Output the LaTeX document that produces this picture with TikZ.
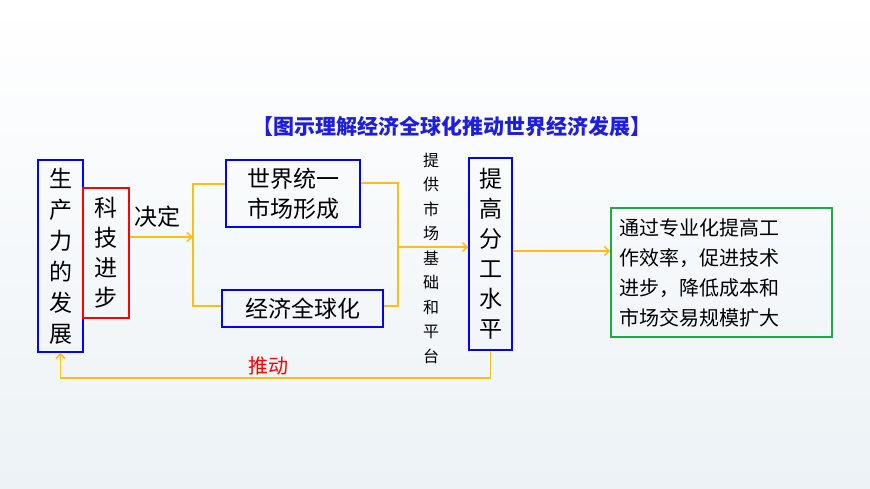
\documentclass[tikz,border=0pt]{standalone}
\usepackage{fontspec}
\setmainfont{Noto Sans CJK SC}
\usetikzlibrary{arrows.meta}
\definecolor{org}{RGB}{255,190,20}
\definecolor{grn}{RGB}{30,170,70}
\definecolor{ttl}{RGB}{30,30,220}
\definecolor{bgb}{RGB}{236,242,246}
\begin{document}
\begin{tikzpicture}[x=1pt,y=-1pt,
  box/.style={draw=#1,line width=1.2pt,inner sep=0pt},
  ol/.style={draw=org,line width=1.5pt},
  oa/.style={ol,-{Straight Barb[length=5pt,width=9pt]}},
  big/.style={font=\fontsize{23}{30}\selectfont},
  vt/.style={align=center,text width=24pt}]
\fill[top color=white,bottom color=bgb] (0,0) rectangle (870,489);
\useasboundingbox (0,0) rectangle (870,489);
\node[font=\bfseries\fontsize{21}{22}\selectfont,text=ttl] (title) at (452,127) {【图示理解经济全球化推动世界经济发展】};
\node[box=blue,minimum width=45pt,minimum height=192pt,vt,font=\fontsize{23}{31}\selectfont] (scl) at (60.5,256) {生\\产\\力\\的\\发\\展};
\node[box=red,minimum width=46pt,minimum height=130pt,vt,font=\fontsize{23}{30}\selectfont] (kj) at (106,253) {科\\技\\进\\步};
\node[big] (jd) at (157,217) {决定};
\node[box=blue,minimum width=134pt,minimum height=67pt,align=left,big] (sj) at (293,193.5) {世界统一\\市场形成};
\node[box=blue,minimum width=161pt,minimum height=37pt,big] (jj) at (302.5,308.5) {经济全球化};
\node[align=center,font=\fontsize{16}{24.5}\selectfont] (tg) at (431,258) {提\\供\\市\\场\\基\\础\\和\\平\\台};
\node[box=blue,minimum width=43pt,minimum height=192pt,vt,font=\fontsize{23}{30}\selectfont] (fg) at (490.5,254) {提\\高\\分\\工\\水\\平};
\node[box=grn,minimum width=221pt,minimum height=129pt,align=left,text width=205pt,font=\fontsize{20}{30}\selectfont] (gx) at (721.5,272.5) {通过专业化提高工\\作效率，促进技术\\进步，降低成本和\\市场交易规模扩大};
\node[text=red,font=\fontsize{20}{22}\selectfont] (td) at (268,366) {推动};
\coordinate (l1) at (193,184);
\coordinate (l2) at (193,306);
\coordinate (r1) at (398,183);
\coordinate (r2) at (398,306);
\draw[oa] (kj.east |- 0,237) -- (193,237);
\draw[ol] (sj.west |- l1) -- (l1) -- (l2) -- (jj.west |- l2);
\draw[ol] (sj.east |- r1) -- (r1) -- (r2) -- (jj.east |- r2);
\draw[oa] (398,247) -- (fg.west |- 0,247);
\draw[oa] (fg.east |- 0,251) -- (gx.west |- 0,251);
\draw[oa] (fg.south) -- (490.5,378) -- (60.5,378) -- (scl.south);
\end{tikzpicture}
\end{document}
